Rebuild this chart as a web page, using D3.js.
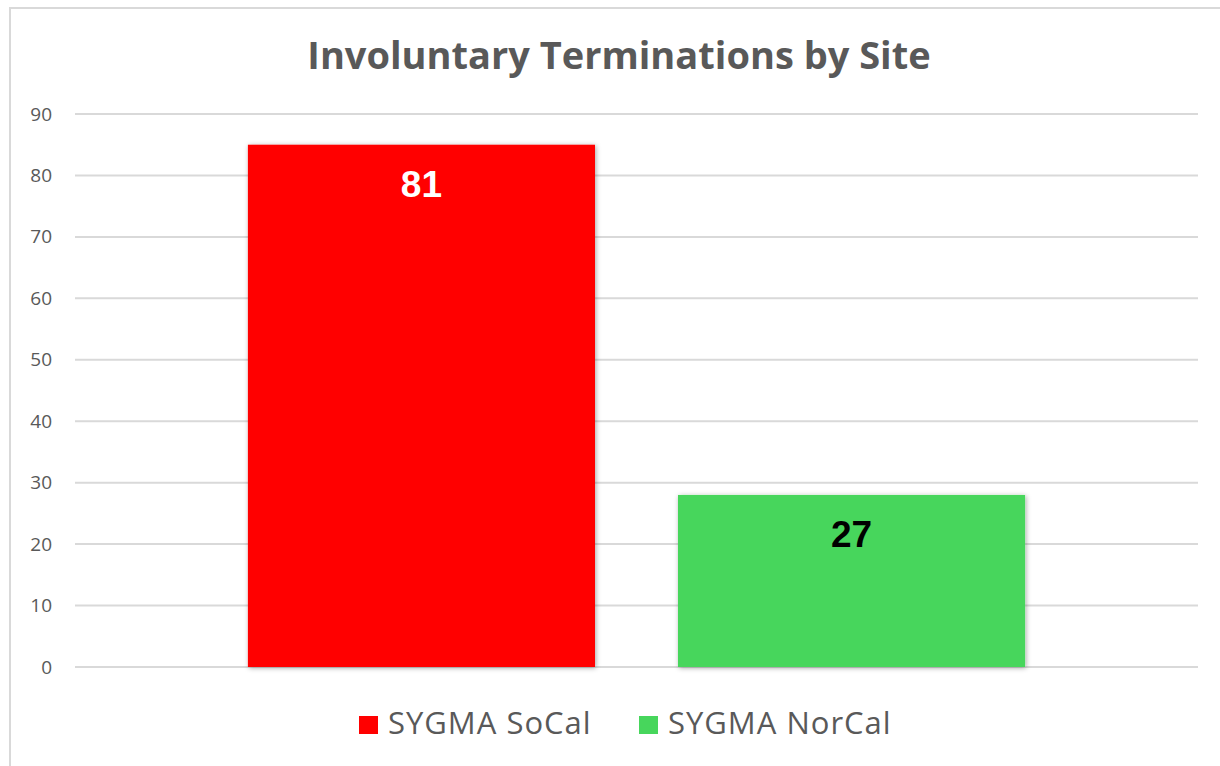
<!DOCTYPE html>
<html>
<head>
<meta charset="utf-8">
<script src="https://cdn.jsdelivr.net/npm/d3@7"></script>
<style>
  body { margin: 0; background: #fff; }
  text { font-family: "Open Sans", Roboto, sans-serif; }
</style>
</head>
<body>
<div id="chart"></div>
<script>
var chartTitle = "Involuntary Terminations by Site";
var seriesNames = ["SYGMA SoCal", "SYGMA NorCal"];
var seriesValues = [85, 28];
var labelValues = ["81", "27"];
var seriesColors = ["#ff0000", "#47d65c"];
var labelColors = ["#ffffff", "#000000"];
var yTicks = [0, 10, 20, 30, 40, 50, 60, 70, 80, 90];

var width = 1220, height = 766;
var margin = {top: 114, right: 22, bottom: 99, left: 75};

var svg = d3.select("#chart").append("svg")
    .attr("width", width)
    .attr("height", height);

var defs = svg.append("defs");
var shadow = defs.append("filter").attr("id", "shadow")
    .attr("x", "-10%").attr("y", "-10%").attr("width", "120%").attr("height", "120%");
shadow.append("feDropShadow")
    .attr("dx", 1).attr("dy", 1).attr("stdDeviation", 2.5)
    .attr("flood-color", "#000").attr("flood-opacity", 0.35);

// chart area frame (only left/top visible in the picture)
svg.append("rect")
    .attr("x", 10).attr("y", 8)
    .attr("width", width + 20).attr("height", height + 20)
    .attr("fill", "none")
    .attr("stroke", "#d9d9d9")
    .attr("stroke-width", 2);

var yScale = d3.scaleLinear()
    .domain([0, 90])
    .range([height - margin.bottom, margin.top]);

var xScale = d3.scaleBand()
    .domain(seriesNames)
    .range([margin.left, width - margin.right])
    .paddingInner(0.193)
    .paddingOuter(0.402);

// gridlines
svg.append("g").selectAll("line")
    .data(yTicks)
    .enter().append("line")
    .attr("x1", margin.left)
    .attr("x2", width - margin.right)
    .attr("y1", function (d) { return yScale(d); })
    .attr("y2", function (d) { return yScale(d); })
    .attr("stroke", "#d9d9d9")
    .attr("stroke-width", 2);

// y axis labels
var yAxis = d3.axisLeft(yScale).tickValues(yTicks).tickSize(0).tickPadding(0);
var yG = svg.append("g")
    .attr("transform", "translate(" + 52 + ",0)")
    .call(yAxis);
yG.select(".domain").remove();
yG.selectAll("text")
    .attr("fill", "#595959")
    .style("font-size", "19px")
    .style("font-family", "'Open Sans', sans-serif");

// bars
svg.append("g").selectAll("rect")
    .data(seriesValues)
    .enter().append("rect")
    .attr("x", function (d, i) { return xScale(seriesNames[i]); })
    .attr("y", function (d) { return yScale(d); })
    .attr("width", xScale.bandwidth())
    .attr("height", function (d) { return yScale(0) - yScale(d); })
    .attr("fill", function (d, i) { return seriesColors[i]; })
    .attr("filter", "url(#shadow)");

// data labels
svg.append("g").selectAll("text")
    .data(seriesValues)
    .enter().append("text")
    .attr("x", function (d, i) { return xScale(seriesNames[i]) + xScale.bandwidth() / 2; })
    .attr("y", function (d) { return yScale(d) + 52; })
    .attr("text-anchor", "middle")
    .attr("fill", function (d, i) { return labelColors[i]; })
    .style("font-size", "37px")
    .style("font-weight", "bold")
    .style("font-family", "Arial, 'Liberation Sans', sans-serif")
    .text(function (d, i) { return labelValues[i]; });

// title
svg.append("text")
    .attr("x", 619)
    .attr("y", 69)
    .attr("text-anchor", "middle")
    .attr("fill", "#595959")
    .style("font-size", "38px")
    .style("font-weight", "bold")
    .text(chartTitle);

// legend
var legend = svg.append("g");
var legendX = [359, 639];
var items = legend.selectAll("g")
    .data(seriesNames)
    .enter().append("g")
    .attr("transform", function (d, i) { return "translate(" + legendX[i] + ",716)"; });
items.append("rect")
    .attr("width", 19).attr("height", 18)
    .attr("fill", function (d, i) { return seriesColors[i]; });
items.append("text")
    .attr("x", 29)
    .attr("y", 18)
    .attr("fill", "#595959")
    .style("font-size", "31px")
    .style("letter-spacing", "1px")
    .text(function (d) { return d; });
</script>
</body>
</html>
